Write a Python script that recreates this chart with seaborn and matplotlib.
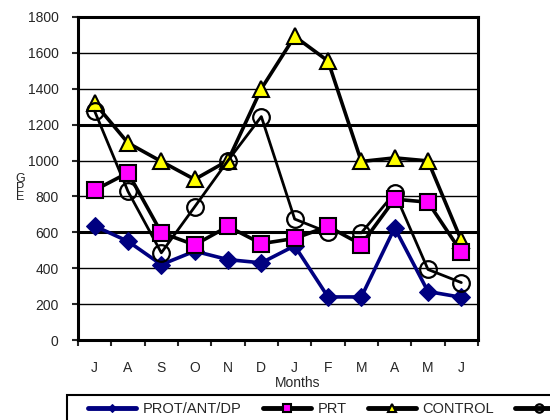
import numpy as np
import matplotlib
matplotlib.use("Agg")
from matplotlib import pyplot as plt
from matplotlib.patches import Rectangle
import seaborn as sns

months = ["J", "A", "S", "O", "N", "D", "J", "F", "M", "A", "M", "J"]
prot_ant_dp = [635, 550, 420, 495, 448, 430, 525, 240, 240, 625, 270, 238]
prt = [835, 932, 598, 530, 633, 537, 566, 633, 532, 785, 768, 490]
control = [1320, 1098, 995, 895, 1000, 1400, 1692, 1555, 995, 1015, 998, 555]
fourth = [1275, 828, 486, 742, 1000, 1245, 674, 600, 597, 820, 393, 320]

sns.set_style("white")
plt.rcParams['font.family'] = ['Liberation Sans', 'DejaVu Sans']

fig = plt.figure(figsize=(5.5, 4.2), dpi=100)
ax = fig.add_axes([78/550, 1-340/420, 400/550, 323/420])

xx = np.arange(len(months))

# horizontal grid lines, 600 and 1200 drawn heavier like the original
for g in range(200, 1800, 200):
    lw = 2.2 if g in (600, 1200) else 1.0
    ax.axhline(g, color="black", lw=lw, zorder=0)

sns.lineplot(x=xx, y=prot_ant_dp, ax=ax, color="#000080", lw=2.6, marker="D",
             markersize=9, markerfacecolor="#000080", markeredgecolor="#000080",
             label="PROT/ANT/DP", zorder=2)
sns.lineplot(x=xx, y=control, ax=ax, color="black", lw=2.6, marker="^",
             markersize=11, markerfacecolor="#ffff00", markeredgecolor="black",
             markeredgewidth=1.5, label="CONTROL", zorder=3)
sns.lineplot(x=xx, y=fourth, ax=ax, color="black", lw=2.0, marker="o",
             markersize=12, markerfacecolor="none", markeredgecolor="black",
             markeredgewidth=1.6, label="fourth", zorder=4)
sns.lineplot(x=xx, y=prt, ax=ax, color="black", lw=2.6, marker="s",
             markersize=12, markerfacecolor="#ff00ff", markeredgecolor="black",
             markeredgewidth=1.5, label="PRT", zorder=5)

ax.set_xlim(-0.5, len(months) - 0.5)
ax.set_ylim(0, 1800)
ax.set_yticks(range(0, 1801, 200))
ax.set_xticks(xx)
ax.set_xticklabels(months)
ax.set_xticks(np.arange(-0.5, len(months), 1), minor=True)
ax.tick_params(axis="x", which="major", length=0, pad=15, labelsize=10)
ax.tick_params(axis="x", which="minor", length=4, width=1.5, direction="out", bottom=True)
ax.tick_params(axis="y", length=4, width=1.5, direction="out", left=True, pad=10, labelsize=10)

for s in ax.spines.values():
    s.set_color("black")
    s.set_linewidth(2.2)

ax.set_xlabel("Months", fontsize=10)
ax.xaxis.set_label_coords((298 - 78) / 400, -(376 - 340) / 323)
ax.set_ylabel("")
fig.text(20/550, 1-188/420, "G\nP\nE", fontsize=9, linespacing=0.7,
         ha="center", va="center")

# legend box runs off the right and bottom edge, like the original
handles, labels = ax.get_legend_handles_labels()
order = [labels.index(n) for n in ["PROT/ANT/DP", "PRT", "CONTROL", "fourth"]]
ax.get_legend().remove()
leg_labels = ["PROT/ANT/DP", "PRT", "CONTROL", ""]
leg = fig.legend([handles[i] for i in order], leg_labels,
                 loc="center left", bbox_to_anchor=(88/550, 1-409/420), ncol=4,
                 frameon=False, fontsize=10.5,
                 handlelength=3.3, handletextpad=0.45, columnspacing=1.45,
                 markerscale=0.5, borderpad=0, borderaxespad=0)
for line in leg.get_lines():
    line.set_linewidth(3.5)
fig.add_artist(Rectangle((67/550, -0.1), 0.95, 0.1 + 1 - 395/420,
                         transform=fig.transFigure, fill=False,
                         edgecolor="black", lw=1.5))

fig.savefig("out.png", dpi=100)
